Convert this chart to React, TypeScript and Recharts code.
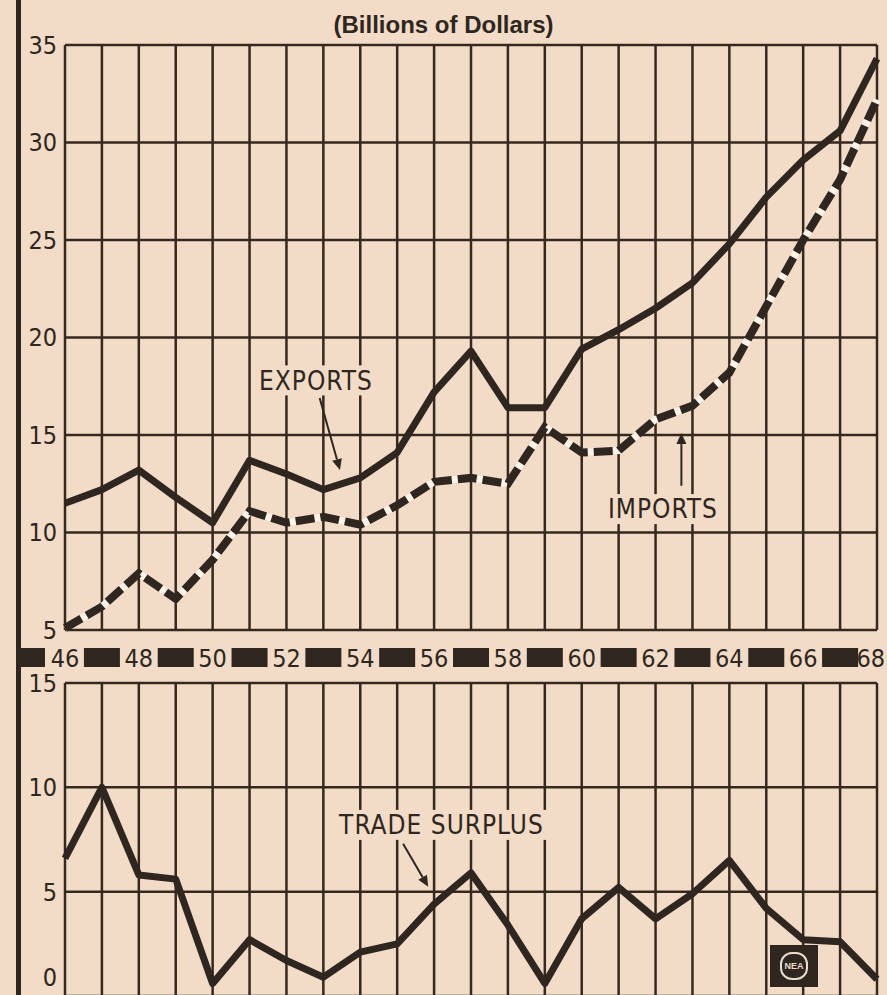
import React from "react";
import {
    LineChart,
    Line,
    XAxis,
    YAxis,
    CartesianGrid,
    ReferenceLine,
    ReferenceDot
} from "recharts";

// years on the x axis, one grid column each
const years = [
    1946, 1947, 1948, 1949, 1950, 1951, 1952, 1953, 1954, 1955, 1956, 1957,
    1958, 1959, 1960, 1961, 1962, 1963, 1964, 1965, 1966, 1967, 1968
];

// billions of dollars
const exportsBn = [
    11.5, 12.2, 13.2, 11.8, 10.5, 13.7, 13.0, 12.2, 12.8, 14.1, 17.2, 19.3,
    16.4, 16.4, 19.4, 20.4, 21.5, 22.8, 24.8, 27.2, 29.1, 30.6, 34.3
];
const importsBn = [
    5.1, 6.2, 7.9, 6.6, 8.6, 11.1, 10.5, 10.8, 10.4, 11.4, 12.6, 12.8,
    12.5, 15.4, 14.1, 14.2, 15.8, 16.5, 18.2, 21.6, 25.0, 28.1, 32.2
];
const surplusBn = [
    6.6, 10.0, 5.8, 5.6, 0.6, 2.7, 1.7, 0.9, 2.1, 2.5, 4.4, 5.9,
    3.4, 0.6, 3.7, 5.2, 3.7, 4.9, 6.5, 4.2, 2.7, 2.6, 0.8
];

const tradeTicks = [5, 10, 15, 20, 25, 30, 35];
const surplusTicks = [0, 5, 10, 15];

const tradeRows = years.map((year, i) => ({ year, exports: exportsBn[i], imports: importsBn[i] }));
const surplusRows = years.map((year, i) => ({ year, surplus: surplusBn[i] }));

const INK = "#2f2620";
const GRID = "#36281f";
const PAPER = "#f2dcc7";
const FONT = "'Liberation Sans Narrow', 'DejaVu Sans Condensed', 'Liberation Sans', sans-serif";

function YearTick({ x, y, payload }: any) {
    const yr = payload.value as number;
    if (yr % 2 === 1) {
        return <rect x={x - 18} y={y + 18} width={36} height={19} fill={INK} />;
    }
    const last = yr === years[years.length - 1];
    return (
        <g>
            {yr === years[0] && <rect x={x - 47} y={y + 18} width={27} height={19} fill={INK} />}
            <text x={last ? x + 8 : x} y={y + 28} dy="0.36em" textAnchor={last ? "end" : "middle"}
                  fontSize={25} fill={INK} fontFamily={FONT}>
                {String(yr).slice(2)}
            </text>
        </g>
    );
}

// the lower panel keeps its year ticks for the grid but draws no labels
const NoTick = () => <g />;

function SurplusTick({ x, y, payload }: any) {
    // keep the "0" inside the cropped page
    const yy = Math.min(y, 307);
    return (
        <text x={x} y={yy} dy="0.36em" textAnchor="end" fontSize={25} fill={INK} fontFamily={FONT}>
            {payload.value}
        </text>
    );
}

function Arrow(props: any) {
    const { x1, y1, x2, y2 } = props;
    const a = Math.atan2(y2 - y1, x2 - x1);
    const L = 11, W = 5;
    const bx = x2 - L * Math.cos(a);
    const by = y2 - L * Math.sin(a);
    const pts = `${x2},${y2} ${bx - W * Math.sin(a)},${by + W * Math.cos(a)} ${bx + W * Math.sin(a)},${by - W * Math.cos(a)}`;
    return (
        <g>
            <line x1={x1} y1={y1} x2={bx} y2={by} stroke={INK} strokeWidth={2} />
            <polygon points={pts} fill={INK} />
        </g>
    );
}

const tag = (text: string, w: number) => (p: any) => (
    <g>
        <rect x={p.cx - w / 2} y={p.cy - 15} width={w} height={30} fill={PAPER} />
        <text x={p.cx} y={p.cy} dy="0.36em" textAnchor="middle" fontSize={26} letterSpacing={1}
              fill={INK} fontFamily={FONT}>
            {text}
        </text>
    </g>
);

export default function App() {
    return (
        <div style={{
            position: "absolute", left: 0, top: 0, width: 887, height: 995,
            overflow: "hidden", background: PAPER, fontFamily: FONT
        }}>
            <div style={{ position: "absolute", left: 16, top: 0, width: 5, height: 995, background: INK }} />
            <div style={{
                position: "absolute", top: 11, left: 0, width: 887, textAlign: "center",
                fontFamily: "'Liberation Sans', sans-serif", fontWeight: "bold", fontSize: 24, color: INK
            }}>
                (Billions of Dollars)
            </div>

            <div style={{ position: "absolute", left: 0, top: 0 }}>
                <LineChart width={887} height={680} data={tradeRows}
                           margin={{ top: 45, right: 10, left: 0, bottom: 10 }}>
                    <CartesianGrid stroke={GRID} strokeWidth={2.5} />
                    <XAxis dataKey="year" type="number" domain={[1946, 1968]} ticks={years} interval={0}
                           height={40} axisLine={false} tickLine={false} tickSize={0} tickMargin={0}
                           tick={<YearTick />} />
                    <YAxis type="number" domain={[5, 35]} ticks={tradeTicks} width={65}
                           axisLine={false} tickLine={false}
                           tick={{ fontSize: 25, fill: INK, fontFamily: FONT }} />
                    <Line type="linear" dataKey="exports" stroke={INK} strokeWidth={7}
                          strokeLinejoin="round" dot={false} isAnimationActive={false} />
                    <Line type="linear" dataKey="imports" stroke="#fbf3ea" strokeWidth={7}
                          dot={false} isAnimationActive={false} />
                    <Line type="linear" dataKey="imports" stroke={INK} strokeWidth={8}
                          strokeDasharray="19 6" dot={false} isAnimationActive={false} />
                    <ReferenceDot x={1952.8} y={17.8} r={0} shape={tag("EXPORTS", 112)} />
                    <ReferenceLine segment={[{ x: 1952.9, y: 16.9 }, { x: 1953.45, y: 13.2 }]} shape={Arrow} />
                    <ReferenceDot x={1962.2} y={11.2} r={0} shape={tag("IMPORTS", 112)} />
                    <ReferenceLine segment={[{ x: 1962.7, y: 12.4 }, { x: 1962.7, y: 15.1 }]} shape={Arrow} />
                </LineChart>
            </div>

            <div style={{ position: "absolute", left: 0, top: 670 }}>
                <LineChart width={887} height={340} data={surplusRows}
                           margin={{ top: 13, right: 10, left: 0, bottom: 14 }}>
                    <CartesianGrid stroke={GRID} strokeWidth={2.5} />
                    <XAxis dataKey="year" type="number" domain={[1946, 1968]} ticks={years} interval={0}
                           height={0} axisLine={false} tickLine={false} tick={<NoTick />} />
                    <YAxis type="number" domain={[0, 15]} ticks={surplusTicks} width={65}
                           axisLine={false} tickLine={false} tick={<SurplusTick />} />
                    <Line type="linear" dataKey="surplus" stroke={INK} strokeWidth={7}
                          strokeLinejoin="round" dot={false} isAnimationActive={false} />
                    <ReferenceDot x={1956.2} y={8.2} r={0} shape={tag("TRADE SURPLUS", 212)} />
                    <ReferenceLine segment={[{ x: 1955.16, y: 7.3 }, { x: 1955.84, y: 5.24 }]} shape={Arrow} />
                </LineChart>
            </div>

            <div style={{
                position: "absolute", left: 770, top: 945, width: 48, height: 42, background: INK,
                display: "flex", alignItems: "center", justifyContent: "center"
            }}>
                <div style={{
                    width: 24, height: 24, borderRadius: 12, border: "2px solid #e8dccd",
                    color: "#e8dccd", fontSize: 9, fontWeight: "bold", fontFamily: "'Liberation Sans', sans-serif",
                    display: "flex", alignItems: "center", justifyContent: "center"
                }}>
                    NEA
                </div>
            </div>
        </div>
    );
}
